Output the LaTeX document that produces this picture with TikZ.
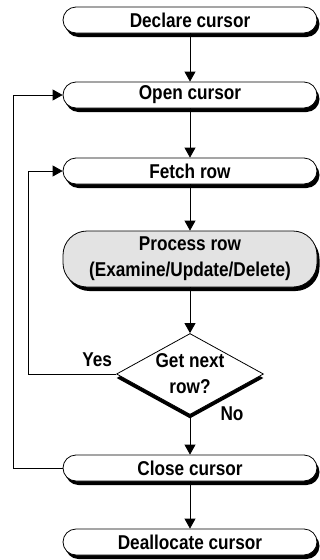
\documentclass[tikz,border=0pt]{standalone}
\usepackage{fontspec}
\setmainfont{Liberation Sans}[FakeStretch=0.86]
\usetikzlibrary{positioning,shapes.geometric,shadows,arrows.meta}

\begin{document}
\begin{tikzpicture}[node distance=75pt, on grid, line width=0.8pt,
	>={Triangle[width=11pt,length=10pt]},
	every node/.style={font=\fontsize{20}{26}\selectfont\bfseries, align=center},
	box/.style={draw, rectangle, rounded corners=13pt, minimum width=254pt,
		minimum height=26pt, inner sep=0pt, fill=white,
		drop shadow={shadow xshift=2.5pt, shadow yshift=-4pt, fill=black, opacity=1}},
	proc/.style={box, rounded corners=24pt, minimum height=56pt, fill=gray!22},
	test/.style={draw, diamond, aspect=1.8, minimum width=147pt, minimum height=81pt,
		inner sep=0pt, fill=white,
		drop shadow={shadow xshift=0pt, shadow yshift=-4pt, fill=black, opacity=1}}]
	\useasboundingbox (0,0) rectangle (320pt,-560pt);

	\node[box] (0) at (190pt,-20pt) {Declare cursor};
	\node[box] (1) [below=of 0] {Open cursor};
	\node[box] (2) [below=76pt of 1] {Fetch row};
	\node[proc] (3) [below=88pt of 2] {Process row\\(Examine/Update/Delete)};
	\node[test] (4) [below=115pt of 3] {Get next\\row?};
	\node[box] (5) [below=94pt of 4] {Close cursor};
	\node[box] (6) [below=74pt of 5] {Deallocate cursor};
	\node (yes) at ([xshift=-19pt, yshift=14pt]4.west) {Yes};
	\node (no) at ([xshift=42pt, yshift=1pt]4.south) {No};

	\path[->]
		(0) edge (1)
		(1) edge (2)
		(2) edge (3)
		(3) edge (4)
		(4) edge (5)
		(5) edge (6);
	\draw[->] (5.west) -- ++(-49pt,0) |- (1.west);
	\draw[->] (4.west) -- ++(-88pt,0) |- (2.west);
\end{tikzpicture}
\end{document}
